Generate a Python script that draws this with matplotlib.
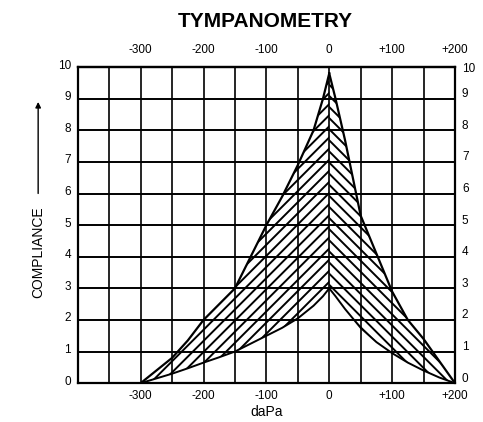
import matplotlib
matplotlib.use("Agg")
import matplotlib.pyplot as plt
import matplotlib.transforms as mtransforms
import numpy as np

# pressure (daPa) and compliance readings taken off the chart
x_left = [-300, -275, -250, -225, -200, -175, -150, -125, -100, -75, -50, -25, -10, 0]
outer_left = [0, 0.4, 0.8, 1.35, 2.0, 2.5, 3.0, 4.0, 5.0, 5.9, 6.9, 8.0, 9.0, 9.8]
inner_left = [0, 0.15, 0.3, 0.47, 0.65, 0.82, 1.0, 1.25, 1.5, 1.75, 2.05, 2.45, 2.75, 3.0]

x_right = [0, 10, 25, 50, 75, 100, 125, 150, 175, 200]
outer_right = [9.8, 9.0, 7.7, 5.3, 4.1, 2.9, 2.0, 1.4, 0.7, 0]
inner_right = [3.0, 2.75, 2.35, 1.75, 1.3, 0.95, 0.65, 0.4, 0.18, 0]

x_ticks = [-300, -200, -100, 0, 100, 200]
x_labels = ["-300", "-200", "-100", "0", "+100", "+200"]
y_ticks = list(range(0, 11))

plt.rcParams["font.family"] = ["Liberation Sans", "DejaVu Sans"]
plt.rcParams["hatch.linewidth"] = 1.4

fig = plt.figure(figsize=(4.83, 4.22), dpi=100)
ax = fig.add_axes([0.161, 0.092, 0.781, 0.749])

ax.set_xlim(-400, 200)
ax.set_ylim(0, 10)

# grid every 50 daPa / 1 unit
for gx in np.arange(-350, 200, 50):
    ax.axvline(gx, color="black", lw=1.2, zorder=1)
for gy in range(1, 10):
    ax.axhline(gy, color="black", lw=1.4, zorder=1)

# hatched compliance region
ax.fill_between(x_left, inner_left, outer_left, facecolor="none",
                edgecolor="black", hatch="///", lw=0, zorder=2)
ax.fill_between(x_right, inner_right, outer_right, facecolor="none",
                edgecolor="black", hatch="\\\\\\", lw=0, zorder=2)
ax.plot(x_left, outer_left, color="black", lw=1.6, zorder=3)
ax.plot(x_left, inner_left, color="black", lw=1.4, zorder=3)
ax.plot(x_right, outer_right, color="black", lw=1.6, zorder=3)
ax.plot(x_right, inner_right, color="black", lw=1.4, zorder=3)

for s in ax.spines.values():
    s.set_linewidth(1.6)

ax.set_xticks(x_ticks)
ax.set_xticklabels(x_labels)
ax.set_yticks(y_ticks)
ax.tick_params(length=0, labelsize=8.5, right=True, labelright=True)
ax.tick_params(axis="x", pad=5)
ax.tick_params(axis="y", pad=5)

# y numbers sit a little above their grid lines in the original
up_left = mtransforms.ScaledTranslation(0, 3 / 100, fig.dpi_scale_trans)
up_right = mtransforms.ScaledTranslation(0, 6 / 100, fig.dpi_scale_trans)
for val, tk in zip(y_ticks, ax.yaxis.get_major_ticks()):
    tk.label1.set_transform(tk.label1.get_transform() + up_left)
    if val < 10:
        tk.label2.set_transform(tk.label2.get_transform() + up_right)

top = ax.secondary_xaxis("top")
top.set_xticks(x_ticks)
top.set_xticklabels(x_labels)
top.tick_params(length=0, labelsize=8.5, pad=8)
top.spines["top"].set_linewidth(1.6)

ax.set_xlabel("daPa", fontsize=10, labelpad=2)
fig.text(0.549, 0.948, "TYMPANOMETRY", ha="center", va="center",
         fontsize=15, fontweight="bold")

# vertical label with arrow
fig.text(0.079, 0.403, "COMPLIANCE", rotation=90, ha="center", va="center",
         fontsize=10)
ax.annotate("", xy=(0.079, 0.765), xytext=(0.079, 0.535),
            xycoords="figure fraction", textcoords="figure fraction",
            arrowprops=dict(arrowstyle="-|>", color="black", lw=1, mutation_scale=8))

fig.savefig("out.png", dpi=100)
